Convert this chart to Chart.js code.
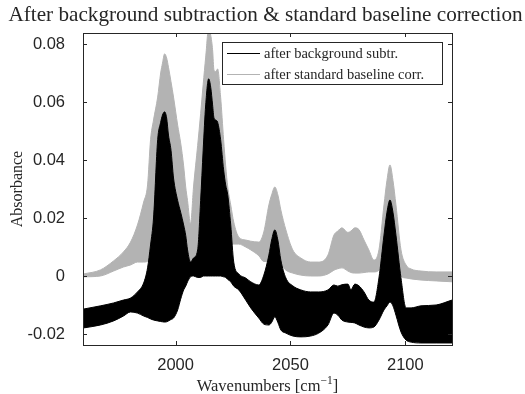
<!DOCTYPE html>
<html><head><meta charset="utf-8">
<script src="https://cdn.jsdelivr.net/npm/chart.js@4/dist/chart.umd.min.js"></script>
<style>html,body{margin:0;padding:0;background:#fff}#wrap{width:525px;height:394px}</style>
</head><body><div id="wrap"><canvas id="c" width="525" height="394"></canvas></div>
<script>
const wavenumbers = [1960,1967.3,1973,1977.3,1980.4,1983.4,1986.1,1987.8,1989.1,1990.4,1992.2,1993.5,1994.3,1995.2,1996.1,1996.9,1998,1999.1,2000.9,2002.2,2003.5,2004.4,2005.2,2006.5,2007.8,2009.6,2010.9,2012,2013.1,2014.4,2015.3,2016.1,2016.7,2017.4,2018.3,2019.6,2020.9,2021.8,2022.7,2024,2025.3,2027.5,2030.5,2032.7,2036.2,2038.4,2040.6,2041.8,2043.2,2044.5,2045.8,2048,2051,2054.5,2058.8,2062.3,2066.3,2068.9,2070.6,2072.4,2075,2076.3,2078,2079.8,2082,2084.1,2086.3,2088.5,2090.7,2092,2093.3,2094.6,2095.9,2098.1,2100.3,2102.5,2106.8,2113.4,2120.3];
// envelope of spectra after background subtraction (black)
const bgSubtrUpper = [-0.0114,-0.0103,-0.0093,-0.0083,-0.0076,-0.0055,-0.0024,0.0028,0.0107,0.020,0.047,0.053,0.0555,0.0566,0.0545,0.0486,0.0434,0.0338,0.026,0.022,0.0176,0.014,0.009,0.0048,0.0062,0.009,0.026,0.0434,0.059,0.068,0.065,0.059,0.0545,0.0538,0.053,0.047,0.0366,0.0314,0.028,0.0176,0.0048,0.0007,-0.0007,-0.002,-0.0031,0.0003,0.0072,0.0124,0.0159,0.0124,0.0055,-0.0007,-0.0034,-0.0048,-0.0055,-0.0055,-0.0048,-0.0031,-0.0035,-0.003,-0.0028,-0.0048,-0.0028,-0.0034,-0.0055,-0.0083,-0.009,-0.0007,0.0141,0.022,0.0262,0.022,0.0141,-0.0007,-0.011,-0.011,-0.0103,-0.01,-0.0083];
const bgSubtrLower = [-0.0179,-0.0169,-0.0155,-0.0138,-0.0124,-0.0128,-0.0138,-0.0143,-0.0148,-0.0152,-0.0155,-0.0157,-0.0158,-0.0159,-0.0158,-0.0155,-0.015,-0.0145,-0.0117,-0.008,-0.0048,-0.0035,-0.002,-0.0003,0.0,-0.0005,-0.0005,0.0,0.0,0.0,0.0,0.0,0.0,0.0,0.0,0.0,-0.0003,-0.0005,-0.0012,-0.002,-0.0035,-0.0048,-0.0083,-0.011,-0.0145,-0.0166,-0.0169,-0.016,-0.0141,-0.016,-0.0186,-0.0197,-0.0207,-0.021,-0.0207,-0.0197,-0.0169,-0.0128,-0.0135,-0.0152,-0.0159,-0.016,-0.0162,-0.0169,-0.0176,-0.0179,-0.0176,-0.0152,-0.0117,-0.0103,-0.009,-0.0103,-0.0135,-0.0193,-0.0221,-0.0228,-0.0231,-0.0231,-0.0231];
// envelope of spectra after standard baseline correction (gray)
const baselineUpper = [0.0007,0.0021,0.0052,0.0083,0.0117,0.0176,0.0255,0.0314,0.047,0.0538,0.0617,0.070,0.0734,0.0766,0.0752,0.072,0.067,0.0617,0.052,0.0459,0.038,0.0307,0.026,0.018,0.0307,0.045,0.056,0.066,0.0755,0.0855,0.083,0.078,0.071,0.0705,0.0714,0.0617,0.047,0.038,0.0307,0.0245,0.0186,0.0134,0.0124,0.012,0.0117,0.0152,0.0245,0.028,0.0307,0.028,0.0228,0.0159,0.009,0.0062,0.0048,0.0048,0.0072,0.0141,0.0155,0.0166,0.015,0.0155,0.0166,0.016,0.0124,0.009,0.0055,0.009,0.0245,0.033,0.0383,0.033,0.0245,0.009,0.0038,0.0024,0.0017,0.0014,0.0014];
const baselineLower = [-0.0003,0.0,0.0017,0.0031,0.0038,0.0048,0.0048,0.005,0.006,0.008,0.012,0.016,0.018,0.02,0.018,0.016,0.014,0.012,0.01,0.007,0.004,0.003,0.0025,0.002,0.003,0.005,0.008,0.01,0.012,0.014,0.014,0.013,0.012,0.012,0.012,0.012,0.012,0.012,0.012,0.011,0.011,0.011,0.010,0.009,0.007,0.005,0.005,0.006,0.006,0.005,0.004,0.002,0.001,0.0003,0.0,0.0,0.0007,0.002,0.0025,0.0028,0.0017,0.0012,0.001,0.001,0.0012,0.0014,0.0014,0.002,0.008,0.015,0.02,0.015,0.008,0.0,-0.0007,-0.001,-0.0014,-0.0017,-0.002];
const xTicks = [2000, 2050, 2100];
const yTicks = [-0.02, 0, 0.02, 0.04, 0.06, 0.08];
const seriesNames = ['after background subtr.', 'after standard baseline corr.'];
const titleText = 'After background subtraction & standard baseline correction';
const xTitle = 'Wavenumbers [cm';
const yTitle = 'Absorbance';

const BLACK = '#000000', GRAY = 'rgb(179,179,179)', AXIS = '#262626';
const pts = arr => wavenumbers.map((w, i) => ({x: w, y: arr[i]}));
const ds = (arr, color, fill) => ({data: pts(arr), borderColor: color, backgroundColor: color, borderWidth: 1,
  pointRadius: 0, fill: fill, cubicInterpolationMode: 'monotone'});

const deco = {
  id: 'deco',
  afterDraw(chart) {
    const {ctx, chartArea: a, scales: {x, y}} = chart;
    ctx.save();
    ctx.strokeStyle = AXIS; ctx.lineWidth = 1;
    ctx.strokeRect(Math.round(a.left) + 0.5, Math.round(a.top) + 0.5, Math.round(a.right - a.left), Math.round(a.bottom - a.top));
    ctx.beginPath();
    xTicks.forEach(v => { const px = Math.round(x.getPixelForValue(v)) + 0.5;
      ctx.moveTo(px, a.bottom); ctx.lineTo(px, a.bottom - 4); ctx.moveTo(px, a.top); ctx.lineTo(px, a.top + 4); });
    yTicks.forEach(v => { const py = Math.round(y.getPixelForValue(v)) + 0.5;
      ctx.moveTo(a.left, py); ctx.lineTo(a.left + 4, py); ctx.moveTo(a.right, py); ctx.lineTo(a.right - 4, py); });
    ctx.stroke();
    // legend
    const lx = 222, ly = 42, lw = 220, lh = 42;
    ctx.fillStyle = '#fff'; ctx.fillRect(lx, ly, lw, lh);
    ctx.strokeStyle = AXIS; ctx.strokeRect(lx + 0.5, ly + 0.5, lw, lh);
    ctx.font = '14.5px "Liberation Serif"'; ctx.textBaseline = 'middle'; ctx.textAlign = 'left';
    [[BLACK, 1.2, 53], [GRAY, 1, 74]].forEach((e, i) => {
      ctx.strokeStyle = e[0]; ctx.lineWidth = e[1];
      ctx.beginPath(); ctx.moveTo(227, e[2] + 0.5); ctx.lineTo(260, e[2] + 0.5); ctx.stroke();
      ctx.fillStyle = '#262626'; ctx.fillText(seriesNames[i], 264, e[2] + 1);
    });
    // title
    ctx.fillStyle = '#262626';
    ctx.font = '21.2px "Liberation Serif"'; ctx.textAlign = 'center'; ctx.textBaseline = 'alphabetic';
    ctx.fillText(titleText, 265.5, 21);
    // x title with superscript
    const fMain = '16.5px "Liberation Serif"', fSup = '11.5px "Liberation Serif"';
    const sup = '\u22121', tail = ']';
    ctx.font = fSup; const wSup = ctx.measureText(sup).width;
    ctx.font = fMain;
    const wMain = ctx.measureText(xTitle).width, wTail = ctx.measureText(tail).width;
    const total = wMain + wSup + wTail; let sx = (a.left + a.right) / 2 - total / 2;
    ctx.textAlign = 'left';
    ctx.fillText(xTitle, sx, 391);
    ctx.font = fSup; ctx.fillText(sup, sx + wMain, 384);
    ctx.font = fMain; ctx.fillText(tail, sx + wMain + wSup, 391);
    // y title
    ctx.translate(22, (a.top + a.bottom) / 2); ctx.rotate(-Math.PI / 2);
    ctx.textAlign = 'center'; ctx.textBaseline = 'alphabetic';
    ctx.font = '16px "Liberation Serif"'; ctx.fillText(yTitle, 0, 0);
    ctx.restore();
  }
};

new Chart(document.getElementById('c'), {
  type: 'line',
  data: {datasets: [
    ds(bgSubtrUpper, BLACK, '+1'), ds(bgSubtrLower, BLACK, false),
    ds(baselineUpper, GRAY, '+1'), ds(baselineLower, GRAY, false)
  ]},
  options: {
    responsive: false, animation: false, devicePixelRatio: 1,
    layout: {padding: {top: 33, right: 73, left: 0, bottom: 0}},
    plugins: {legend: {display: false}, tooltip: {enabled: false}, title: {display: false}},
    scales: {
      x: {type: 'linear', min: 1959.7, max: 2120.3,
        grid: {display: false}, border: {display: false},
        afterBuildTicks: s => { s.ticks = xTicks.map(v => ({value: v})); },
        afterFit: s => { s.height = 49; },
        ticks: {color: AXIS, font: {family: 'Liberation Sans', size: 16.5}, padding: 3, maxRotation: 0, callback: v => String(v)}},
      y: {type: 'linear', min: -0.0238, max: 0.0838,
        grid: {display: false}, border: {display: false},
        afterBuildTicks: s => { s.ticks = yTicks.map(v => ({value: v})); },
        afterFit: s => { s.width = 83; },
        ticks: {color: AXIS, font: {family: 'Liberation Sans', size: 16.5}, padding: 10,
          callback: v => (Math.abs(v) < 1e-9 ? '0' : String(+v.toFixed(2)))}}
    }
  },
  plugins: [deco]
});
</script></body></html>
